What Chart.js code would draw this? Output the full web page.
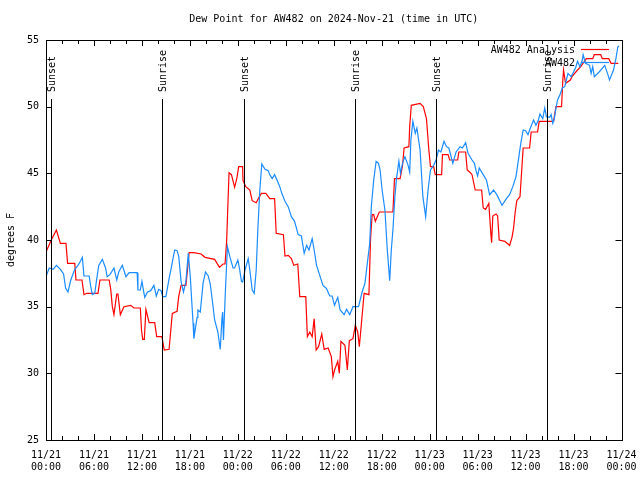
<!DOCTYPE html>
<html>
<head>
<meta charset="utf-8">
<title>Dew Point for AW482</title>
<script src="https://cdn.jsdelivr.net/npm/chart.js@4.4.1/dist/chart.umd.min.js"></script>
<style>
  html, body { margin: 0; padding: 0; background: #fff; }
  #wrap { width: 640px; height: 480px; }
</style>
</head>
<body>
<div id="wrap"><canvas id="dewChart" width="640" height="480"></canvas></div>
<script>
// ---- data (hours since 11/21 00:00 UTC, degrees F) ----
const titleText = 'Dew Point for AW482 on 2024-Nov-21 (time in UTC)';
const yAxisTitle = 'degrees F';

const xTickDates = ['11/21', '11/21', '11/21', '11/21', '11/22', '11/22', '11/22', '11/22', '11/23', '11/23', '11/23', '11/23', '11/24'];
const xTickTimes = ['00:00', '06:00', '12:00', '18:00', '00:00', '06:00', '12:00', '18:00', '00:00', '06:00', '12:00', '18:00', '00:00'];

const sunHours = [0.66, 14.56, 24.71, 38.6, 48.75, 62.65];
const sunLabels = ['Sunset', 'Sunrise', 'Sunset', 'Sunrise', 'Sunset', 'Sunrise'];

const analysisHours = [0.0, 0.66, 1.3, 1.8, 2.5, 2.7, 3.6, 3.75, 4.5, 4.75, 5.1, 5.9, 6.5, 6.75, 7.9, 8.1, 8.3, 8.5, 8.85, 9.0,
  9.3, 9.75, 10.6, 11.0, 11.8, 11.95, 12.1, 12.3, 12.5, 12.9, 13.6, 13.85, 14.5, 14.8, 15.4, 15.8, 16.4, 16.6, 16.9, 17.5,
  17.7, 17.9, 18.5, 19.4, 19.9, 21.1, 21.7, 22.15, 22.4, 22.6, 22.8, 22.9, 23.2, 23.6, 23.9, 24.1, 24.6, 24.65, 25.0, 25.5,
  25.8, 26.3, 26.7, 26.95, 27.5, 28.0, 28.6, 28.8, 29.7, 29.9, 30.3, 30.7, 31.0, 31.5, 31.75, 32.5, 32.7, 33.0, 33.3, 33.55,
  33.8, 34.1, 34.5, 34.8, 35.3, 35.7, 35.9, 36.1, 36.5, 36.7, 36.9, 37.4, 37.7, 37.95, 38.4, 38.7, 39.0, 39.2, 39.5, 39.8,
  40.4, 40.6, 40.8, 41.0, 41.2, 41.7, 43.4, 43.6, 44.3, 44.6, 44.8, 45.4, 45.5, 45.7, 46.8, 47.2, 47.6, 47.9, 48.1, 48.5,
  48.7, 49.5, 49.6, 50.3, 50.5, 51.5, 51.65, 52.5, 52.7, 53.0, 53.3, 53.7, 54.5, 54.7, 55.0, 55.4, 55.65, 55.75, 55.9, 56.3,
  56.5, 56.7, 57.4, 58.0, 58.3, 58.5, 58.7, 58.9, 59.3, 59.7, 60.5, 60.7, 61.5, 61.7, 63.5, 63.8, 64.5, 64.65, 64.75, 65.0,
  65.6, 65.8, 66.5, 66.9, 67.6, 68.4, 68.6, 69.4, 69.6, 70.4, 70.7, 71.6];
const analysisValues = [39.1, 40.0, 40.75, 39.75, 39.75, 38.25, 38.25, 37.0, 37.0, 35.9, 36.0, 36.0, 36.0, 37.0, 37.0, 36.3, 35.0, 34.4, 35.95, 35.95,
  34.4, 35.0, 35.1, 34.9, 34.9, 33.25, 32.55, 32.55, 34.8, 33.8, 33.8, 32.75, 32.75, 31.75, 31.8, 34.5, 34.65, 35.75, 36.6, 36.6,
  37.75, 39.05, 39.05, 38.95, 38.7, 38.55, 37.95, 38.2, 38.2, 39.9, 43.4, 45.05, 44.9, 43.95, 44.7, 45.5, 45.5, 44.45, 44.0, 43.75,
  42.95, 42.8, 43.25, 43.5, 43.5, 43.1, 43.1, 40.5, 40.4, 38.8, 38.85, 38.6, 38.1, 38.2, 35.75, 35.75, 32.75, 33.1, 32.75, 34.1,
  31.75, 32.0, 32.95, 31.8, 31.9, 31.25, 29.75, 30.25, 30.9, 30.0, 32.4, 32.1, 30.25, 32.45, 32.6, 33.6, 33.1, 32.0, 34.0, 36.0,
  35.9, 40.0, 41.9, 41.9, 41.4, 42.1, 42.1, 44.6, 44.6, 45.55, 46.9, 47.0, 48.5, 50.1, 50.25, 50.0, 49.1, 46.75, 45.5, 45.5,
  44.9, 44.9, 46.4, 46.4, 46.0, 46.0, 46.6, 46.6, 45.25, 45.1, 44.9, 43.75, 43.75, 42.4, 42.3, 42.75, 40.5, 39.8, 41.8, 41.95,
  41.8, 40.0, 39.9, 39.6, 40.2, 40.9, 42.1, 42.95, 43.25, 46.9, 46.9, 48.1, 48.1, 48.9, 48.9, 50.0, 50.0, 51.9, 52.75, 51.75,
  52.0, 52.25, 52.75, 53.0, 53.6, 53.6, 53.9, 53.9, 53.6, 53.6, 53.25, 53.25];

const stationHours = [0.0, 0.4, 0.9, 1.3, 1.8, 2.2, 2.45, 2.75, 3.1, 3.6, 4.0, 4.3, 4.55, 4.75, 5.4, 5.6, 5.8, 6.1, 6.35, 6.6,
  7.05, 7.45, 7.65, 8.0, 8.5, 8.85, 9.1, 9.55, 10.0, 10.4, 11.4, 11.5, 11.8, 12.0, 12.35, 12.7, 13.1, 13.5, 13.8, 14.1,
  14.4, 14.6, 15.0, 15.4, 15.7, 16.1, 16.4, 16.6, 16.9, 17.2, 17.5, 17.8, 18.05, 18.4, 18.5, 18.9, 19.0, 19.3, 19.65, 19.95,
  20.3, 20.55, 20.8, 21.1, 21.5, 21.8, 22.0, 22.1, 22.2, 22.45, 22.7, 23.0, 23.4, 23.6, 24.0, 24.2, 24.45, 24.6, 24.9, 25.3,
  25.5, 25.8, 26.05, 26.3, 26.5, 26.75, 27.0, 27.4, 27.8, 28.0, 28.3, 28.6, 28.9, 29.25, 29.5, 29.9, 30.3, 30.7, 31.1, 31.55,
  31.95, 32.3, 32.6, 32.9, 33.3, 33.55, 33.85, 34.3, 34.65, 35.1, 35.5, 35.8, 36.1, 36.5, 36.8, 37.3, 37.6, 38.0, 38.4, 39.1,
  39.55, 39.9, 40.2, 40.5, 40.7, 41.0, 41.3, 41.6, 41.8, 42.05, 42.4, 42.7, 43.0, 43.2, 43.4, 43.65, 43.85, 44.15, 44.35, 44.6,
  44.9, 45.3, 45.5, 45.65, 45.9, 46.2, 46.4, 46.8, 47.15, 47.5, 47.8, 48.1, 48.5, 48.8, 49.1, 49.4, 49.8, 50.1, 50.4, 50.9,
  51.3, 51.8, 52.1, 52.5, 52.8, 53.3, 53.6, 53.8, 54.0, 54.2, 54.6, 55.1, 55.5, 56.0, 56.4, 57.05, 57.6, 58.0, 58.4, 58.8,
  59.2, 59.4, 59.7, 60.0, 60.3, 60.5, 61.0, 61.3, 61.6, 61.8, 62.15, 62.4, 62.6, 63.0, 63.2, 63.4, 63.6, 63.8, 64.0, 64.3,
  64.6, 64.9, 65.1, 65.3, 65.7, 66.0, 66.3, 66.5, 66.8, 67.1, 67.2, 67.5, 68.0, 68.2, 68.4, 68.6, 69.2, 69.9, 70.3, 70.5,
  71.0, 71.3, 71.55, 71.7];
const stationValues = [37.25, 37.9, 37.8, 38.1, 37.8, 37.45, 36.4, 36.1, 37.0, 37.8, 38.1, 38.4, 38.7, 37.3, 37.3, 36.5, 35.9, 36.0, 37.1, 38.1,
  38.55, 37.9, 37.25, 37.4, 37.9, 37.0, 37.6, 38.1, 37.25, 37.55, 37.55, 36.25, 36.25, 36.9, 35.7, 36.1, 36.2, 36.6, 35.8, 36.3,
  36.2, 35.75, 35.75, 37.1, 38.0, 39.25, 39.2, 38.8, 36.9, 36.1, 36.9, 39.0, 37.25, 33.75, 32.6, 34.2, 34.75, 34.6, 36.75, 37.6,
  37.3, 36.7, 35.5, 34.0, 33.1, 31.8, 34.0, 34.6, 32.5, 36.25, 39.5, 38.75, 37.9, 37.9, 38.5, 37.9, 36.9, 36.85, 37.75, 38.6,
  37.75, 36.25, 36.0, 37.75, 40.75, 43.75, 45.7, 45.3, 45.2, 44.9, 44.6, 44.9, 44.5, 44.0, 43.5, 42.9, 42.5, 41.75, 41.4, 40.4,
  40.3, 39.0, 39.6, 39.25, 40.1, 39.25, 38.1, 37.25, 36.6, 36.35, 35.8, 35.8, 35.1, 35.7, 34.75, 34.4, 34.8, 34.4, 35.0, 35.0,
  36.1, 36.75, 38.25, 39.75, 42.5, 44.5, 45.9, 45.75, 45.25, 43.75, 42.25, 39.25, 36.95, 39.25, 40.75, 43.25, 44.6, 45.9, 45.0, 45.75,
  46.25, 45.6, 45.1, 47.5, 48.9, 48.0, 48.4, 46.75, 43.25, 41.75, 43.75, 45.25, 45.6, 46.0, 46.75, 46.6, 47.4, 47.0, 46.9, 45.75,
  46.6, 47.0, 46.9, 47.3, 46.5, 46.0, 45.75, 45.2, 44.8, 45.4, 45.0, 44.5, 43.4, 43.75, 43.4, 42.6, 43.1, 43.4, 44.0, 44.75,
  46.4, 47.25, 48.25, 48.2, 47.9, 48.25, 49.0, 48.6, 49.0, 49.45, 49.1, 49.9, 49.25, 49.2, 49.4, 48.75, 49.1, 49.9, 50.5, 50.9,
  51.4, 51.5, 52.0, 52.5, 52.25, 52.6, 53.0, 53.4, 53.0, 53.5, 53.9, 53.25, 53.1, 52.5, 53.0, 52.25, 52.6, 53.1, 52.4, 52.0,
  52.75, 53.6, 54.5, 54.55];

// colours / fonts
const colors = {
  analysis: '#ff0000',
  station: '#1a8cff',
  axis: '#000000',
};
const monoFont = '"DejaVu Sans Mono", "Liberation Mono", monospace';

// pair the hour + value arrays into {x, y} points for Chart.js
function toPoints(hours, values) {
  return hours.map((h, i) => ({ x: h, y: values[i] }));
}

// Draws the frame, inward tick marks, sunrise/sunset markers, title and key
const gnuplotLook = {
  id: 'gnuplotLook',
  beforeDraw(chart) {
    const ctx = chart.ctx;
    ctx.save();
    ctx.fillStyle = '#fff';
    ctx.fillRect(0, 0, chart.width, chart.height);
    ctx.restore();
  },
  afterDatasetsDraw(chart) {
    const ctx = chart.ctx;
    const area = chart.chartArea;
    const xs = chart.scales.x;
    const ys = chart.scales.y;
    ctx.save();
    ctx.strokeStyle = colors.axis;
    ctx.lineWidth = 1;

    // frame
    ctx.strokeRect(Math.round(area.left) + 0.5, Math.round(area.top) + 0.5,
      Math.round(area.right - area.left), Math.round(area.bottom - area.top));

    // x ticks every 2 hours, top and bottom, pointing inward
    ctx.beginPath();
    for (let h = 2; h < 72; h += 2) {
      const px = Math.round(xs.getPixelForValue(h)) + 0.5;
      const len = h % 6 === 0 ? 6 : 4;
      ctx.moveTo(px, area.bottom);
      ctx.lineTo(px, area.bottom - len);
      ctx.moveTo(px, area.top);
      ctx.lineTo(px, area.top + len);
    }
    // y ticks, left and right
    for (let v = 30; v < 55; v += 5) {
      const py = Math.round(ys.getPixelForValue(v)) + 0.5;
      ctx.moveTo(area.left, py);
      ctx.lineTo(area.left + 6, py);
      ctx.moveTo(area.right, py);
      ctx.lineTo(area.right - 6, py);
    }
    ctx.stroke();

    // sunrise / sunset lines and their labels
    ctx.font = '10px ' + monoFont;
    ctx.fillStyle = '#000';
    sunHours.forEach((h, i) => {
      const px = Math.round(xs.getPixelForValue(h)) + 0.5;
      ctx.beginPath();
      ctx.moveTo(px, 99);
      ctx.lineTo(px, area.bottom);
      ctx.stroke();
      ctx.save();
      ctx.translate(px + 1, 92);
      ctx.rotate(-Math.PI / 2);
      ctx.textAlign = 'left';
      ctx.textBaseline = 'middle';
      ctx.fillText(sunLabels[i], 0, 0);
      ctx.restore();
    });

    // key in the top right corner (text right-aligned, sample line after it)
    ctx.textAlign = 'right';
    ctx.textBaseline = 'middle';
    chart.data.datasets.forEach((ds, i) => {
      const y = 50 + i * 13;
      ctx.fillStyle = '#000';
      ctx.fillText(ds.label, 575, y);
      ctx.strokeStyle = ds.borderColor;
      ctx.lineWidth = 1.2;
      ctx.beginPath();
      ctx.moveTo(581, y - 0.5);
      ctx.lineTo(609, y - 0.5);
      ctx.stroke();
    });
    ctx.lineWidth = 1;

    // title
    ctx.fillStyle = '#000';
    ctx.textAlign = 'center';
    ctx.fillText(titleText, (area.left + area.right) / 2, 19);

    // y axis title
    ctx.save();
    ctx.translate(11, (area.top + area.bottom) / 2);
    ctx.rotate(-Math.PI / 2);
    ctx.textAlign = 'center';
    ctx.textBaseline = 'middle';
    ctx.fillText(yAxisTitle, 0, 0);
    ctx.restore();

    ctx.restore();
  },
};

new Chart(document.getElementById('dewChart'), {
  type: 'line',
  data: {
    datasets: [
      {
        label: 'AW482 Analysis',
        data: toPoints(analysisHours, analysisValues),
        borderColor: colors.analysis,
        borderWidth: 1.2,
        pointRadius: 0,
        tension: 0,
        fill: false,
        order: 1,
      },
      {
        label: 'AW482',
        data: toPoints(stationHours, stationValues),
        borderColor: colors.station,
        borderWidth: 1.2,
        pointRadius: 0,
        tension: 0,
        fill: false,
        order: 0, // drawn on top of the analysis line
      },
    ],
  },
  options: {
    responsive: false,
    animation: false,
    layout: { padding: { top: 40, right: 18.5, left: 0, bottom: 0 } },
    plugins: {
      legend: { display: false },
      title: { display: false },
      tooltip: { enabled: false },
    },
    scales: {
      x: {
        type: 'linear',
        min: 0,
        max: 72,
        afterFit(scale) {
          scale.height = 40;
          // let the layout padding alone decide the right edge
          scale.paddingLeft = 0;
          scale.paddingRight = 0;
        },
        grid: { drawOnChartArea: false, drawTicks: false },
        border: { display: false },
        ticks: {
          stepSize: 6,
          autoSkip: false,
          maxRotation: 0,
          padding: 9,
          color: '#000',
          font: { family: monoFont, size: 10 },
          callback: (value) => {
            const i = Math.round(value / 6);
            return [xTickDates[i], xTickTimes[i]];
          },
        },
      },
      y: {
        min: 25,
        max: 55,
        afterFit(scale) { scale.width = 46; },
        grid: { drawOnChartArea: false, drawTicks: false },
        border: { display: false },
        ticks: {
          stepSize: 5,
          padding: 7,
          color: '#000',
          font: { family: monoFont, size: 10 },
        },
      },
    },
  },
  plugins: [gnuplotLook],
});
</script>
</body>
</html>
